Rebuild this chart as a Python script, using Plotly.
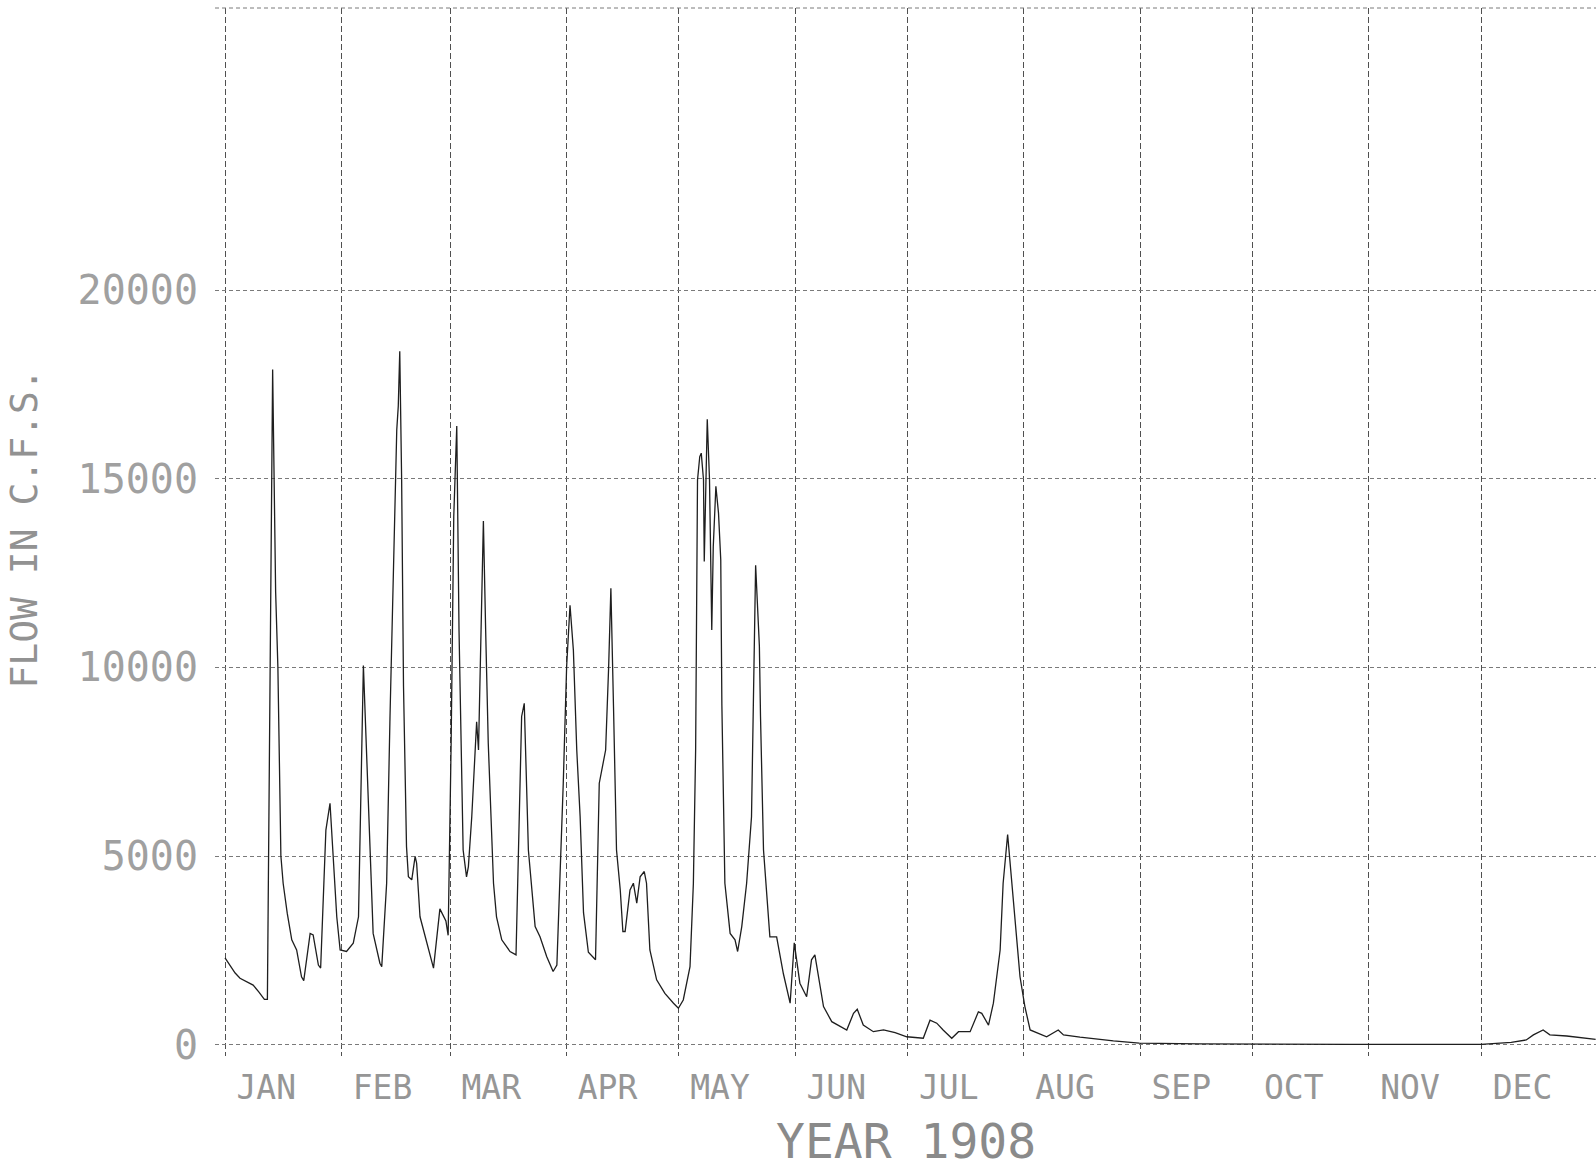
import plotly.graph_objects as go

# Daily flow, 1908 (day of year, 0 = Jan 1)
day = [0, 1.3, 2.7, 4, 6, 7.5, 9, 10.5, 11.3, 12.7, 13.5, 14.1, 14.9, 15.5, 16.6, 17.8, 19.1, 20.4, 21,
       22.7, 23.5, 24.9, 25.5, 26.9, 28, 28.4, 29.8, 30.7, 32.4, 34.2, 35.6, 36.9, 37.4, 38.7, 39.5,
       41.3, 41.8, 43.1, 44, 45.8, 46.2, 46.6, 47.1, 47.6, 48.4, 48.9, 49.8, 50.7, 51.1, 52, 53.8,
       55.6, 57.3, 58.9, 59.5, 60.3, 61.0, 61.8, 62.4, 63.5, 64.4, 64.9, 65.8, 66.7, 67.1, 67.6,
       68.9, 69.5, 70.2, 71.6, 72.4, 73.8, 76, 77.6, 78.2, 79.1, 79.8, 80.9, 82.7, 84, 85.8, 87.5,
       88.5, 89.8, 90.2, 91.1, 92, 92.9, 93.8, 94.7, 95.6, 96.9, 98.8, 99.8, 100.6, 101.5, 102.3,
       102.9, 103.6, 104.4, 105.4, 106.1, 106.7, 108, 108.9, 109.8, 110.7, 111.8, 112.4, 113.3,
       115.1, 117.3, 119.6, 120.9, 122.2, 124, 124.9, 125.5, 126.0, 126.6, 127.0, 127.6, 127.8,
       128.2, 128.6, 129.2, 129.8, 130.2, 130.9, 131.6, 132.2, 132.5, 133.3, 134.7, 136, 136.7,
       137.8, 139.1, 140.4, 141.5, 142.5, 142.8, 143.6, 145.3, 147.1, 148.9, 150.7, 151.8, 152.4,
       153.3, 155.1, 156.4, 157.3, 158.2, 159.6, 161.8, 165.8, 167.6, 168.6, 170.2, 172.9, 175.6,
       178.7, 181.8, 186.2, 188, 189.8, 191.5, 193.8, 195.6, 198.7, 200.9, 201.8, 203.6, 204.9,
       206.7, 207.5, 208.7, 210.2, 212, 213.3, 214.7, 219.1, 222.2, 223.6, 228, 236.9, 243.8,
       260, 280, 300, 320, 335, 343, 347, 348.9, 351.5, 353.3, 357.8, 365.5]
flow = [2300, 2100, 1900, 1760, 1650, 1580, 1400, 1200, 1200, 17900, 12000, 10000, 5000, 4280, 3480, 2780, 2510, 1800, 1700,
        2950, 2910, 2110, 2030, 5690, 6400, 5690, 3390, 2510, 2470, 2690, 3390, 10050, 8700, 5160, 2950,
        2160, 2070, 4280, 8700, 16300, 16920, 18380, 14970, 9500, 5250, 4450, 4370, 4990, 4810, 3390, 2690,
        2030, 3600, 3280, 2900, 8000, 14000, 16400, 11000, 5160, 4450, 4720, 6040, 8090, 8560, 7810,
        13880, 11000, 7990, 4280, 3390, 2780, 2470, 2380, 5130, 8700, 9050, 5160, 3130, 2860, 2330, 1940,
        2110, 5500, 6930, 10020, 11650, 10460, 7810, 6040, 3500, 2450, 2250, 6930, 7370, 7810, 10000,
        12100, 8960, 5160, 4100, 3000, 3000, 4100, 4280, 3750, 4450, 4590, 4280, 2510,
        1720, 1360, 1100, 965, 1185, 2070, 4280, 7810, 14970, 15590, 15680, 14970, 12810,
        14500, 16580, 14970, 10990, 13200, 14800, 14090, 12850, 9000, 4280, 2950, 2780, 2470,
        3130, 4280, 6040, 12710, 10560, 8700, 5160, 2860, 2860, 1880, 1100, 2700, 2300,
        1630, 1270, 2250, 2380, 1800, 1010, 610, 390, 830, 940, 520, 345, 390,
        320, 210, 170, 650, 570, 390, 170, 345, 345, 870, 830, 520, 1100,
        2510, 4280, 5570, 3840, 1800, 1010, 390, 210, 390, 260, 200, 100, 40,
        20, 10, 10, 10, 10, 60, 125, 260, 390, 260, 230, 140]

months = ["JAN", "FEB", "MAR", "APR", "MAY", "JUN", "JUL", "AUG", "SEP", "OCT", "NOV", "DEC"]
month_start = [0, 31, 60, 91, 121, 152, 182, 213, 244, 274, 305, 335]
flow_ticks = [0, 5000, 10000, 15000, 20000]

MONO = "DejaVu Sans Mono"
label_offset = 11

fig = go.Figure()
fig.add_trace(go.Scatter(x=day, y=flow, mode="lines",
                         line=dict(color="#1e1e1e", width=1.3), showlegend=False,
                         hoverinfo="skip"))

fig.update_layout(
    width=1596, height=1174,
    margin=dict(l=215, r=0, t=8, b=118),
    paper_bgcolor="white", plot_bgcolor="white",
    xaxis=dict(
        range=[-2.67, 365.6],
        tickmode="array",
        tickvals=[s + label_offset for s in month_start],
        ticktext=months,
        ticks="", showgrid=False, zeroline=False, showline=False,
        tickfont=dict(family=MONO, size=33, color="#969696"),
        ticklabelstandoff=9,
        minor=dict(tickmode="array", tickvals=month_start, showgrid=True,
                   gridcolor="#505050", gridwidth=1, griddash="6px,3px", ticks=""),
    ),
    yaxis=dict(
        range=[-300, 27480],
        tickmode="array", tickvals=flow_ticks,
        ticktext=[str(v) for v in flow_ticks],
        ticks="", showgrid=True, gridcolor="#7a7a7a", gridwidth=1, griddash="4px,3px",
        zeroline=False, showline=False,
        tickfont=dict(family=MONO, size=40, color="#a0a0a0"),
        ticklabelstandoff=16,
    ),
    shapes=[dict(type="line", xref="paper", yref="paper", x0=0, x1=1, y0=1, y1=1,
                 line=dict(color="#7a7a7a", width=1, dash="4px,3px"))],
    annotations=[
        dict(text="YEAR 1908", xref="paper", yref="paper", x=0.5, y=-0.1097,
             xanchor="center", yanchor="bottom", showarrow=False,
             font=dict(family=MONO, size=48, color="#8a8a8a")),
        dict(text="FLOW IN C.F.S.", xref="paper", yref="paper", x=-0.1385, y=0.503,
             xanchor="center", yanchor="middle", showarrow=False, textangle=-90,
             font=dict(family=MONO, size=38, color="#929292")),
    ],
)

fig.write_html("out.html")
